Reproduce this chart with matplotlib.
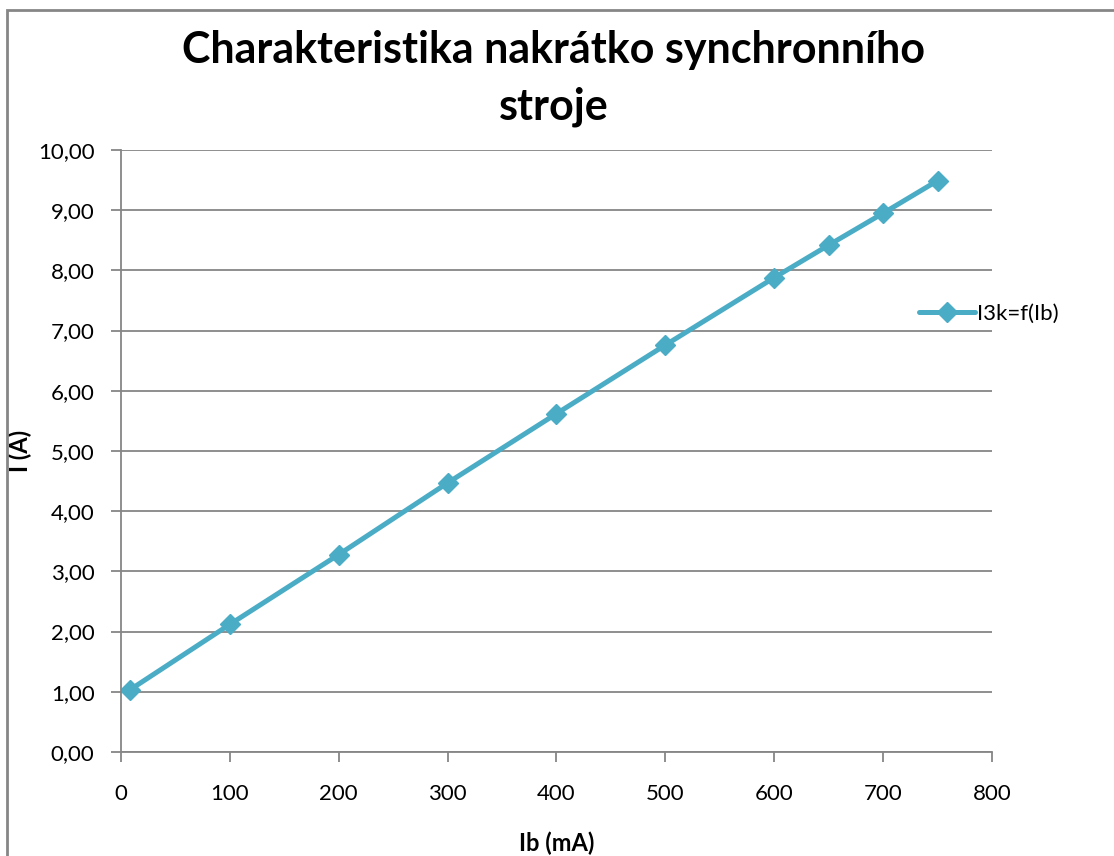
import matplotlib.pyplot as plt
from matplotlib.patches import Rectangle
from matplotlib.ticker import FuncFormatter

# data
ib_ma = [8, 100, 200, 300, 400, 500, 600, 650, 700, 750]
i3k = [1.03, 2.12, 3.28, 4.47, 5.62, 6.76, 7.88, 8.42, 8.95, 9.49]

line_color = '#4BACC6'
grid_color = '#868686'

plt.rcParams['font.family'] = ['Lato', 'DejaVu Sans']

fig = plt.figure(figsize=(11.14, 8.56), dpi=100)
ax = fig.add_axes([0.1086, 0.1215, 0.7819, 0.7033])

ax.plot(ib_ma, i3k, color=line_color, lw=3.6, marker='D', ms=10,
        label='I3k=f(Ib)', solid_capstyle='round')

ax.set_xlim(0, 800)
ax.set_ylim(0, 10)
ax.set_xticks(range(0, 801, 100))
ax.set_yticks(range(0, 11))
ax.yaxis.set_major_formatter(FuncFormatter(lambda v, p: f'{v:.2f}'.replace('.', ',')))

ax.grid(axis='y', color=grid_color, lw=1.3)
ax.set_axisbelow(True)
for s in ['top', 'right']:
    ax.spines[s].set_visible(False)
for s in ['left', 'bottom']:
    ax.spines[s].set_color(grid_color)
    ax.spines[s].set_linewidth(1.3)
ax.tick_params(axis='both', colors=grid_color, labelcolor='black', length=7,
               width=1.3, labelsize=16)
ax.tick_params(axis='y', pad=12)
ax.tick_params(axis='x', pad=16)

ax.set_xlabel('Ib (mA)', fontsize=17, fontweight='bold', va='center')
ax.set_ylabel('I (A)', fontsize=17, fontweight='bold', va='center')
ax.xaxis.set_label_coords(0.5, -0.151)
ax.yaxis.set_label_coords(-0.116, 0.5)

fig.text(0.497, 0.908, 'Charakteristika nakrátko synchronního\nstroje', ha='center',
         va='center', fontsize=31, fontweight='bold', linespacing=1.5)

ax.legend(loc='center left', bbox_to_anchor=(0.9165, 0.728), frameon=False,
          fontsize=16, handlelength=2.5, handletextpad=0.1, borderaxespad=0,
          borderpad=0)

fig.patches.append(Rectangle((7 / 1114, -0.05), 1.1, 1 - 10 / 856 + 0.05,
                             transform=fig.transFigure, fill=False,
                             edgecolor=grid_color, lw=2))

fig.savefig('out.png', dpi=100)
